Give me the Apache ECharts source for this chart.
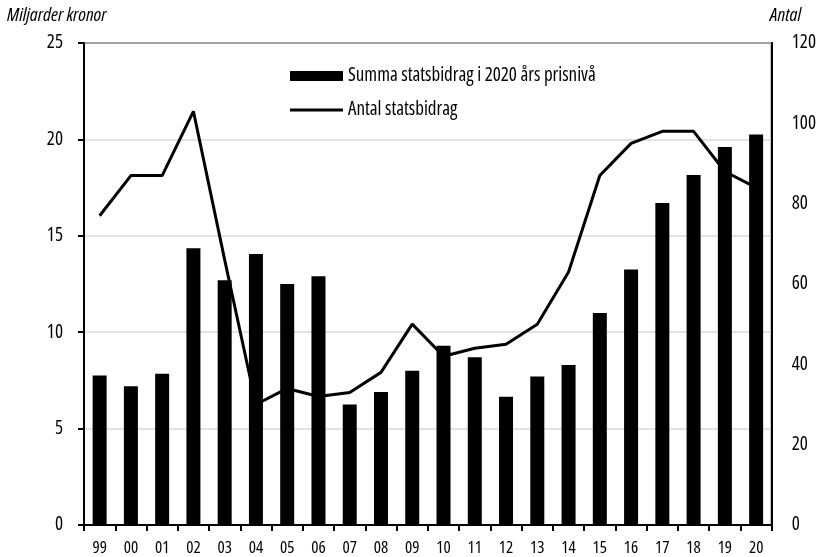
<!DOCTYPE html>
<html><head><meta charset="utf-8">
<script src="https://cdn.jsdelivr.net/npm/echarts@6/dist/echarts.min.js"></script>
<style>html,body{margin:0;padding:0;background:#fff}#c{width:819px;height:557px}</style>
</head><body><div id="c"></div>
<script>
const categories = ['99','00','01','02','03','04','05','06','07','08','09','10','11','12','13','14','15','16','17','18','19','20'];
const summaValues = [7.75, 7.2, 7.85, 14.35, 12.7, 14.05, 12.5, 12.9, 6.25, 6.9, 8.0, 9.3, 8.7, 6.65, 7.7, 8.3, 11.0, 13.25, 16.7, 18.15, 19.6, 20.25];
const antalValues = [77, 87, 87, 103, 66, 30, 34, 32, 33, 38, 50, 42, 44, 45, 50, 63, 87, 95, 98, 98, 88, 84];
const leftTicks = [0, 5, 10, 15, 20, 25];
const rightTicks = [0, 20, 40, 60, 80, 100, 120];
const FAM = '"Open Sans", sans-serif';
const COND = 'condensed';

const chart = echarts.init(document.getElementById('c'));
chart.setOption({
  animation: false,
  backgroundColor: '#fff',
  textStyle: { fontFamily: FAM },
  grid: { left: 84, right: 46, top: 43, bottom: 30, show: true, borderColor: '#000', borderWidth: 2 },
  graphic: [
    { type: 'text', left: 7, top: 6, style: { text: 'Miljarder kronor', font: 'italic condensed 19px ' + FAM, fill: '#000' } },
    { type: 'text', right: 18, top: 6, style: { text: 'Antal', font: 'italic condensed 19px ' + FAM, fill: '#000' } }
  ],
  legend: {
    orient: 'vertical', left: 285, top: 61, itemGap: 14,
    itemWidth: 53, itemHeight: 10,
    textStyle: { fontFamily: FAM, fontWeight: COND, fontSize: 19, color: '#000', lineHeight: 20 },
    data: [
      { name: 'Summa statsbidrag i 2020 års prisnivå', icon: 'rect' },
      { name: 'Antal statsbidrag', icon: 'path://M0,0H53V3H0Z' }
    ]
  },
  xAxis: {
    type: 'category', data: categories,
    boundaryGap: true,
    axisLine: { lineStyle: { color: '#000', width: 2 } },
    axisTick: { show: true, length: 6, lineStyle: { color: '#000', width: 2 } },
    axisLabel: { color: '#000', fontSize: 17, fontWeight: COND, fontFamily: FAM, margin: 15 }
  },
  yAxis: [
    {
      type: 'value', min: leftTicks[0], max: leftTicks[leftTicks.length - 1], interval: 5,
      axisLine: { show: true, lineStyle: { color: '#000', width: 2 } },
      axisTick: { show: true, length: 6, lineStyle: { color: '#000', width: 2 } },
      axisLabel: { color: '#000', fontSize: 19, fontWeight: COND, fontFamily: FAM, margin: 21 },
      splitLine: { show: true, lineStyle: { color: '#d9d9d9', width: 1.5 } }
    },
    {
      type: 'value', min: rightTicks[0], max: rightTicks[rightTicks.length - 1], interval: 20,
      position: 'right',
      axisLine: { show: true, lineStyle: { color: '#000', width: 2 } },
      axisTick: { show: false },
      axisLabel: { color: '#000', fontSize: 19, fontWeight: COND, fontFamily: FAM, margin: 20 },
      splitLine: { show: false }
    }
  ],
  series: [
    {
      name: 'Summa statsbidrag i 2020 års prisnivå', type: 'bar', data: summaValues,
      yAxisIndex: 0, barWidth: 14, itemStyle: { color: '#000' }
    },
    {
      name: 'Antal statsbidrag', type: 'line', data: antalValues, yAxisIndex: 1,
      symbol: 'none', smooth: false,
      lineStyle: { color: '#000', width: 3 }, itemStyle: { color: '#000' }
    }
  ]
});
</script></body></html>
